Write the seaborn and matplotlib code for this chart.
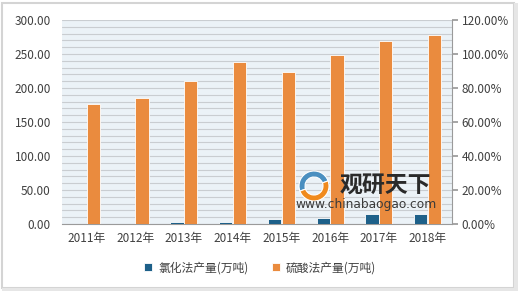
import matplotlib
matplotlib.use("Agg")
import matplotlib.pyplot as plt
import seaborn as sns
import pandas as pd
from matplotlib.patches import Rectangle, Wedge
from matplotlib.ticker import FuncFormatter, MultipleLocator

years = ["2011年", "2012年", "2013年", "2014年", "2015年", "2016年", "2017年", "2018年"]
chloride = [0.5, 0.5, 3.0, 3.0, 7.0, 9.0, 15.0, 14.0]
sulfate = [177.0, 186.0, 210.0, 238.0, 223.0, 248.0, 269.0, 278.0]
series_names = ["氯化法产量(万吨)", "硫酸法产量(万吨)"]
colors = ["#1d6089", "#ea8b3e"]

df = pd.DataFrame({
    "year": years * 2,
    "value": chloride + sulfate,
    "series": [series_names[0]] * len(years) + [series_names[1]] * len(years),
})

sns.set_theme(style="white")
plt.rcParams["font.family"] = ["Noto Sans CJK SC", "DejaVu Sans"]

fig = plt.figure(figsize=(5.2, 2.91), dpi=100)
fig.patch.set_facecolor("white")
# outer frame
fig.patches.append(Rectangle((0.004, 0.012), 0.985, 0.978, transform=fig.transFigure,
                             fill=False, edgecolor="#d4d4d4", linewidth=1.5))
fig.patches.append(Rectangle((0.989, 0.012), 0.008, 0.978, transform=fig.transFigure,
                             facecolor="#e6e6e6", edgecolor="none"))
fig.patches.append(Rectangle((0.004, 0.0), 0.993, 0.012, transform=fig.transFigure,
                             facecolor="#e6e6e6", edgecolor="none"))

ax = fig.add_axes([62/520, 1 - 224/291, (452 - 62)/520, (224 - 20)/291])
ax.set_facecolor("#ebf2f7")
sns.barplot(data=df, x="year", y="value", hue="series", palette=colors,
            saturation=1, width=0.56, gap=0.04, edgecolor="white", linewidth=0.6,
            ax=ax, legend=True, zorder=3)
ax.set_ylim(0, 300)
ax.set_xlim(-0.5, len(years) - 0.5)
ax.yaxis.set_major_locator(MultipleLocator(50))
ax.yaxis.set_minor_locator(MultipleLocator(10))
ax.grid(True, which="both", axis="y", color="#c9cdd1", linewidth=0.8, zorder=0)
ax.set_axisbelow(True)
ax.yaxis.set_major_formatter(FuncFormatter(lambda v, p: f"{v:.2f}"))
ax.set_xlabel("")
ax.set_ylabel("")
for s in ["top", "left", "right"]:
    ax.spines[s].set_visible(False)
ax.spines["bottom"].set_color("#9a9a9a")
ax.spines["bottom"].set_linewidth(0.8)
ax.tick_params(axis="both", which="both", length=0, colors="#404040", labelsize=8.5)
ax.tick_params(axis="x", pad=6)
ax.tick_params(axis="y", pad=8)

ax2 = ax.twinx()
ax2.set_ylim(0, 1.2)
ax2.yaxis.set_major_locator(MultipleLocator(0.2))
ax2.yaxis.set_major_formatter(FuncFormatter(lambda v, p: f"{v*100:.2f}%"))
for s in ["top", "left", "bottom"]:
    ax2.spines[s].set_visible(False)
ax2.spines["right"].set_color("#9a9a9a")
ax2.spines["right"].set_linewidth(0.8)
ax2.tick_params(axis="y", length=4, color="#9a9a9a", colors="#404040", labelsize=8.5, pad=3)
ax2.grid(False)

handles, labels = ax.get_legend_handles_labels()
ax.get_legend().remove()
leg = fig.legend(handles, labels, loc="center", bbox_to_anchor=(0.5, 0.08), ncol=2,
                 frameon=False, fontsize=8.5, handlelength=0.7, handleheight=0.7,
                 columnspacing=2.0, handletextpad=0.5)
for t in leg.get_texts():
    t.set_color("#404040")

# watermark logo + text
lx, ly = 314, 186
fig.patches.append(Wedge((lx, 291 - ly), 15, 20, 200, width=6, transform=None,
                         facecolor="#4a8fc0", edgecolor="white", linewidth=0.8, zorder=10))
fig.patches.append(Wedge((lx, 291 - ly), 15, 200, 380, width=6, transform=None,
                         facecolor="#f08a1d", edgecolor="white", linewidth=0.8, zorder=10))
fig.text(0.653, 0.362, "观研天下", fontsize=16.5, fontweight="bold", color="#2a2a2a",
         ha="left", va="center", zorder=11)
fig.text(0.569, 0.296, "www.chinabaogao.com", fontsize=8.8, color="#3a3a3a",
         ha="left", va="center", zorder=11, family=["DejaVu Sans"])

fig.savefig("out.png", dpi=100)
